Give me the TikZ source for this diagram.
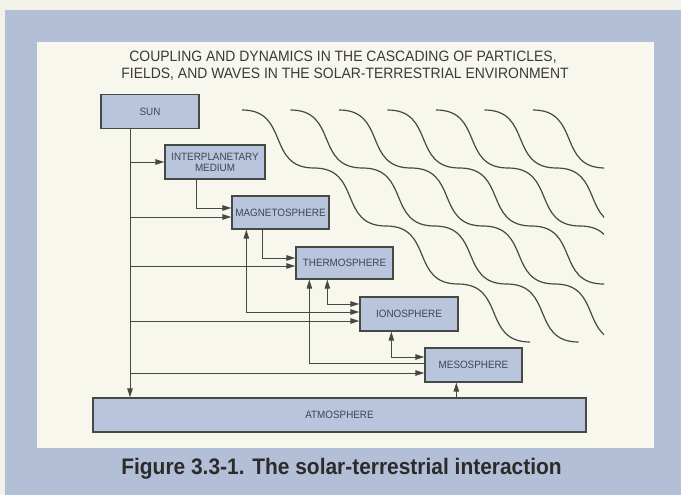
\documentclass[tikz,border=0pt]{standalone}
\usepackage{fontspec}
\setmainfont{Liberation Sans}
\newfontfamily\condfont{Liberation Sans}[FakeStretch=0.93]
\usetikzlibrary{arrows.meta}
\definecolor{pagebg}{HTML}{F2F1EA}
\definecolor{frameblue}{HTML}{B3BED7}
\definecolor{panel}{HTML}{F8F7EE}
\definecolor{boxfill}{HTML}{B9C4DD}
\definecolor{ink}{HTML}{454A42}
\definecolor{boxtext}{HTML}{3E4450}
\definecolor{titletext}{HTML}{3A3A3A}
\definecolor{captext}{HTML}{2B2B2B}
\begin{document}
\begin{tikzpicture}[x=1pt,y=-1pt,
  layer/.style={draw=ink, line width=1.3pt, fill=boxfill, inner sep=0pt,
    text=boxtext, font=\condfont\fontsize{10.6}{11}\selectfont, align=center},
  link/.style={draw=ink, line width=0.9pt},
  >={Triangle[length=9pt,width=5.5pt]},
  wave/.style={draw=ink, line width=1.2pt}]
\useasboundingbox (0,0) rectangle (681,495);
\fill[pagebg] (0,0) rectangle (681,495);
\fill[frameblue] (5,10) rectangle (681,495);
\fill[panel] (37,42) rectangle (654,448);

\node[anchor=base, text=titletext, font=\condfont\fontsize{15}{17}\selectfont] (title1) at (343,62)
  {COUPLING AND DYNAMICS IN THE CASCADING OF PARTICLES,};
\node[anchor=base, text=titletext, font=\condfont\fontsize{15}{17}\selectfont] (title2) at (345,79)
  {FIELDS, AND WAVES IN THE SOLAR-TERRESTRIAL ENVIRONMENT};

% waves
\begin{scope}
\clip (200,100) rectangle (604,350);
\foreach \i in {0,...,6}{
  \draw[wave] (242+48.5*\i,110)
    .. controls +(48,0) and +(-48,0) .. ++(72,58)
    .. controls +(48,0) and +(-48,0) .. ++(72,58)
    .. controls +(48,0) and +(-48,0) .. ++(72,58)
    .. controls +(48,0) and +(-48,0) .. ++(72,58);
}
\end{scope}

% boxes
\node[layer, minimum width=98pt, minimum height=34pt] (sun) at (150,111.5) {SUN};
\node[layer, minimum width=100pt, minimum height=34pt] (ipm) at (215,162) {INTERPLANETARY\\MEDIUM};
\node[layer, minimum width=97pt, minimum height=33pt] (mag) at (280.5,212.5) {MAGNETOSPHERE};
\node[layer, minimum width=97pt, minimum height=32pt] (thermo) at (344.5,263) {THERMOSPHERE};
\node[layer, minimum width=98pt, minimum height=34pt] (iono) at (409,314) {IONOSPHERE};
\node[layer, minimum width=97pt, minimum height=34pt] (meso) at (473.5,365) {MESOSPHERE};
\node[layer, minimum width=493pt, minimum height=34pt] (atm) at (339.5,415) {ATMOSPHERE};

% reference points
\coordinate (trunk) at (130,0);
\coordinate (m1) at ([yshift=4.5pt]mag.west);
\coordinate (m2) at ([yshift=-4.5pt]mag.west);
\coordinate (t1) at ([yshift=5pt]thermo.west);
\coordinate (t2) at ([yshift=-3pt]thermo.west);
\coordinate (i1) at ([yshift=10pt]iono.west);
\coordinate (i2) at ([yshift=2pt]iono.west);
\coordinate (i3) at ([yshift=-7pt]iono.west);
\coordinate (s1) at ([yshift=8pt]meso.west);
\coordinate (s2) at ([yshift=2pt]meso.west);
\coordinate (s3) at ([yshift=-8pt]meso.west);
\coordinate (a1) at ([xshift=32pt]ipm.south west);
\coordinate (a2) at ([xshift=31pt]mag.south west);
\coordinate (a3) at ([xshift=15pt]mag.south west);
\coordinate (a4) at ([xshift=32pt]thermo.south west);
\coordinate (a5) at ([xshift=14pt]thermo.south west);
\coordinate (a6) at ([xshift=32pt]iono.south west);
\coordinate (a7) at ([xshift=32pt]meso.south west);

% connectors
\draw[link,->] (sun.south -| trunk) -- (atm.north -| trunk);
\draw[link,->] (trunk |- ipm.west) -- (ipm.west);
\draw[link,->] (trunk |- m2) -- (m2);
\draw[link,->] (a1) |- (m1);
\draw[link,->] (trunk |- t2) -- (t2);
\draw[link,->] (a2) |- (t1);
\draw[link,<->] (a3) |- (i2);
\draw[link,<->] (a4) |- (i1);
\draw[link,->] (trunk |- i3) -- (i3);
\draw[link,->] (s2) -| (a5);
\draw[link,<->] (a6) |- (s1);
\draw[link,->] (trunk |- s3) -- (s3);
\draw[link,->] (atm.north -| a7) -- (a7);

\node[anchor=base, text=captext, font=\condfont\bfseries\fontsize{22.5}{26}\selectfont] (caption) at (341.5,474)
  {Figure 3.3-1. The solar-terrestrial interaction};
\end{tikzpicture}
\end{document}
